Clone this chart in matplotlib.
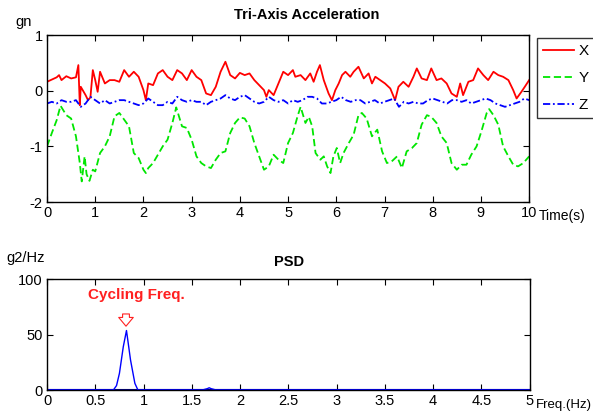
import matplotlib
matplotlib.use("Agg")
import matplotlib.pyplot as plt
import numpy as np

# --- データ ---
t_x = [0.0, 0.1, 0.2, 0.25, 0.3, 0.4, 0.5, 0.6, 0.65, 0.68, 0.7, 0.8, 0.85, 0.9, 0.95,
       1.0, 1.05, 1.1, 1.2, 1.3, 1.4, 1.5, 1.6, 1.7, 1.8, 1.9, 2.0, 2.05, 2.1, 2.2,
       2.3, 2.4, 2.5, 2.6, 2.7, 2.8, 2.9, 3.0, 3.1, 3.2, 3.3, 3.4, 3.5, 3.6, 3.7,
       3.8, 3.9, 4.0, 4.1, 4.2, 4.3, 4.4, 4.5, 4.55, 4.6, 4.7, 4.8, 4.9, 5.0, 5.1,
       5.15, 5.26, 5.36, 5.46, 5.53, 5.6, 5.66, 5.74, 5.84, 5.91, 5.98, 6.05, 6.12,
       6.19, 6.29, 6.36, 6.46, 6.57, 6.67, 6.74, 6.81, 6.91, 7.01, 7.12, 7.22, 7.29,
       7.39, 7.5, 7.6, 7.67, 7.77, 7.88, 7.97, 8.08, 8.18, 8.29, 8.39, 8.5, 8.57,
       8.63, 8.74, 8.84, 8.94, 9.05, 9.15, 9.26, 9.36, 9.46, 9.57, 9.67, 9.74, 9.84,
       9.91, 10.0]
acc_x = [0.16, 0.20, 0.24, 0.28, 0.19, 0.26, 0.22, 0.24, 0.46, -0.26, 0.07, -0.08, -0.17, -0.12, 0.37,
         0.19, -0.02, 0.34, 0.13, 0.19, 0.19, 0.16, 0.37, 0.25, 0.34, 0.25, 0.01, -0.17, 0.13, 0.10,
         0.31, 0.37, 0.25, 0.19, 0.37, 0.31, 0.19, 0.37, 0.25, 0.19, -0.05, -0.08, 0.07, 0.34, 0.52,
         0.28, 0.22, 0.32, 0.28, 0.31, 0.19, 0.10, 0.01, -0.11, 0.01, -0.08, 0.13, 0.34, 0.28, 0.37,
         0.25, 0.28, 0.19, 0.31, 0.16, 0.34, 0.46, 0.19, -0.05, -0.17, 0.01, 0.13, 0.28,
         0.34, 0.25, 0.34, 0.43, 0.22, 0.31, 0.13, 0.25, 0.19, 0.13, 0.04, -0.17, 0.07,
         0.16, 0.07, 0.25, 0.40, 0.22, 0.19, 0.40, 0.19, 0.22, 0.13, -0.05, -0.11, 0.13,
         -0.08, 0.16, 0.19, 0.40, 0.28, 0.19, 0.34, 0.28, 0.25, 0.19, 0.01, -0.14, -0.02,
         0.07, 0.19]

t_y = [0.0, 0.1, 0.2, 0.28, 0.4, 0.5, 0.6, 0.68, 0.72, 0.78, 0.82, 0.88, 0.95, 1.0, 1.1,
       1.2, 1.3, 1.4, 1.5, 1.6, 1.7, 1.8, 1.9, 2.0, 2.05, 2.1, 2.2, 2.3, 2.4, 2.5,
       2.6, 2.68, 2.8, 2.9, 3.0, 3.1, 3.2, 3.3, 3.4, 3.5, 3.6, 3.7, 3.8, 3.9, 4.0,
       4.1, 4.2, 4.3, 4.4, 4.5, 4.6, 4.7, 4.8, 4.9, 5.0, 5.1, 5.2, 5.26, 5.36, 5.43,
       5.5, 5.57, 5.67, 5.74, 5.81, 5.88, 5.94, 6.01, 6.08, 6.15, 6.26, 6.36, 6.46,
       6.53, 6.63, 6.74, 6.85, 6.95, 7.05, 7.15, 7.26, 7.36, 7.46, 7.57, 7.67, 7.77,
       7.88, 7.97, 8.08, 8.18, 8.29, 8.39, 8.5, 8.6, 8.7, 8.8, 8.91, 9.01, 9.12,
       9.17, 9.26, 9.36, 9.46, 9.57, 9.67, 9.77, 9.88, 10.0]
acc_y = [-1.0, -0.76, -0.53, -0.27, -0.44, -0.5, -0.82, -1.3, -1.63, -1.18, -1.5, -1.62, -1.42, -1.45, -1.12,
         -1.0, -0.82, -0.46, -0.4, -0.52, -0.64, -1.12, -1.21, -1.42, -1.48, -1.39, -1.3, -1.15, -1.0, -0.88,
         -0.58, -0.3, -0.64, -0.67, -0.88, -1.18, -1.3, -1.36, -1.39, -1.24, -1.12, -1.09, -0.76, -0.58, -0.48,
         -0.5, -0.64, -0.94, -1.18, -1.42, -1.36, -1.15, -1.24, -1.3, -0.94, -0.76, -0.45, -0.29, -0.58, -0.47,
         -0.64, -1.12, -1.24, -1.18, -1.36, -1.48, -1.18, -1.03, -1.3, -1.12, -0.94, -0.79, -0.44,
         -0.4, -0.5, -0.82, -0.7, -1.09, -1.3, -1.27, -1.18, -1.39, -1.09, -1.03, -0.94, -0.61,
         -0.44, -0.47, -0.58, -0.82, -0.94, -1.3, -1.42, -1.33, -1.33, -1.15, -1.0, -0.73, -0.4,
         -0.33, -0.44, -0.61, -1.0, -1.18, -1.33, -1.36, -1.3, -1.18]

t_z = [i / 10 for i in range(101)]
acc_z = [-0.23, -0.20, -0.23, -0.17, -0.20, -0.20, -0.17, -0.29, -0.23, -0.11,
         -0.17, -0.23, -0.17, -0.23, -0.20, -0.17, -0.17, -0.20, -0.23, -0.26,
         -0.23, -0.14, -0.20, -0.26, -0.26, -0.20, -0.23, -0.11, -0.17, -0.20,
         -0.17, -0.20, -0.20, -0.26, -0.20, -0.17, -0.14, -0.08, -0.14, -0.17,
         -0.11, -0.08, -0.14, -0.20, -0.23, -0.20, -0.11, -0.17, -0.20, -0.17,
         -0.23, -0.17, -0.20, -0.17, -0.11, -0.11, -0.14, -0.23, -0.23, -0.20,
         -0.17, -0.11, -0.17, -0.20, -0.17, -0.17, -0.23, -0.20, -0.17, -0.23,
         -0.20, -0.17, -0.14, -0.29, -0.20, -0.23, -0.20, -0.23, -0.23, -0.17,
         -0.14, -0.17, -0.20, -0.23, -0.17, -0.17, -0.20, -0.17, -0.23, -0.20,
         -0.17, -0.14, -0.17, -0.23, -0.26, -0.29, -0.26, -0.23, -0.20, -0.14,
         -0.17]

freq = [0.0, 0.5, 0.69, 0.72, 0.75, 0.79, 0.823, 0.865, 0.91, 0.94, 1.2,
        1.62, 1.66, 1.68, 1.70, 1.74, 2.0, 3.0, 4.0, 5.0]
psd = [0.3, 0.3, 0.3, 4.0, 15.0, 39.0, 53.6, 27.0, 6.0, 0.3, 0.3,
       0.3, 1.2, 2.0, 1.2, 0.3, 0.3, 0.3, 0.3, 0.3]

plt.rcParams['font.family'] = ['Liberation Sans', 'DejaVu Sans']
plt.rcParams['font.size'] = 10.5
plt.rcParams['axes.unicode_minus'] = False

fig = plt.figure(figsize=(5.93, 4.16), dpi=100)

# --- 上段：3軸加速度 ---
ax1 = fig.add_axes([0.0793, 0.5144, 0.813, 0.4014])
ax1.plot(t_x, acc_x, color='#ff0000', lw=1.3, label='X')
ax1.plot(t_y, acc_y, color='#00e600', lw=1.3, ls=(0, (4, 2)), label='Y')
ax1.plot(t_z, acc_z, color='#0000ff', lw=1.3, ls=(0, (4, 1.5, 1, 1.5)), label='Z')
ax1.set_xlim(0, 10)
ax1.set_ylim(-2, 1)
ax1.set_xticks(range(0, 11))
ax1.set_yticks([-2, -1, 0, 1])
fig.text(307 / 593, 1 - 15 / 416, 'Tri-Axis Acceleration', fontweight='bold', fontsize=10.5,
         ha='center', va='center')
fig.text(24 / 593, 1 - 22 / 416, 'gn', ha='center', va='center')
fig.text(539 / 593, 1 - 216 / 416, 'Time(s)', ha='left', va='center', fontsize=10)

leg = fig.legend(loc='upper left', bbox_to_anchor=(537 / 593, 1 - 38 / 416), borderaxespad=0,
                 fancybox=False, edgecolor='black', handlelength=2.0, fontsize=11,
                 labelspacing=0.85, borderpad=0.4, handletextpad=0.3)
leg.get_frame().set_linewidth(1.0)

# --- 下段：PSD ---
ax2 = fig.add_axes([0.0793, 0.0625, 0.814, 0.2668])
ax2.plot(freq, psd, color='#0000ff', lw=1.0)
ax2.axhline(0.3, color='#000080', lw=1.5, zorder=1)
ax2.set_xlim(0, 5)
ax2.set_ylim(0, 100)
ax2.set_xticks(np.arange(0, 5.01, 0.5))
ax2.set_xticklabels(['0', '0.5', '1', '1.5', '2', '2.5', '3', '3.5', '4', '4.5', '5'])
ax2.set_yticks([0, 50, 100])
fig.text(289 / 593, 1 - 262 / 416, 'PSD', fontweight='bold', fontsize=10.5,
         ha='center', va='center')
fig.text(26 / 593, 1 - 258 / 416, 'g2/Hz', ha='center', va='center')
fig.text(536 / 593, 1 - 405 / 416, 'Freq.(Hz)', ha='left', va='center', fontsize=9.5)

ax2.text(0.93, 86, 'Cycling Freq.', color='#ff2020', fontweight='bold', fontsize=11,
         ha='center', va='center')
ax2.annotate('', xy=(0.818, 57.5), xytext=(0.818, 68.5),
             arrowprops=dict(arrowstyle='simple,head_length=0.45,head_width=0.75,tail_width=0.35',
                             fc='white', ec='#ff2020', lw=0.8, shrinkA=0, shrinkB=0,
                             mutation_scale=14))

for ax in (ax1, ax2):
    ax.tick_params(direction='in', top=True, right=True, length=4, pad=3)
    for s in ax.spines.values():
        s.set_linewidth(1.0)

fig.savefig('out.png', dpi=100)
